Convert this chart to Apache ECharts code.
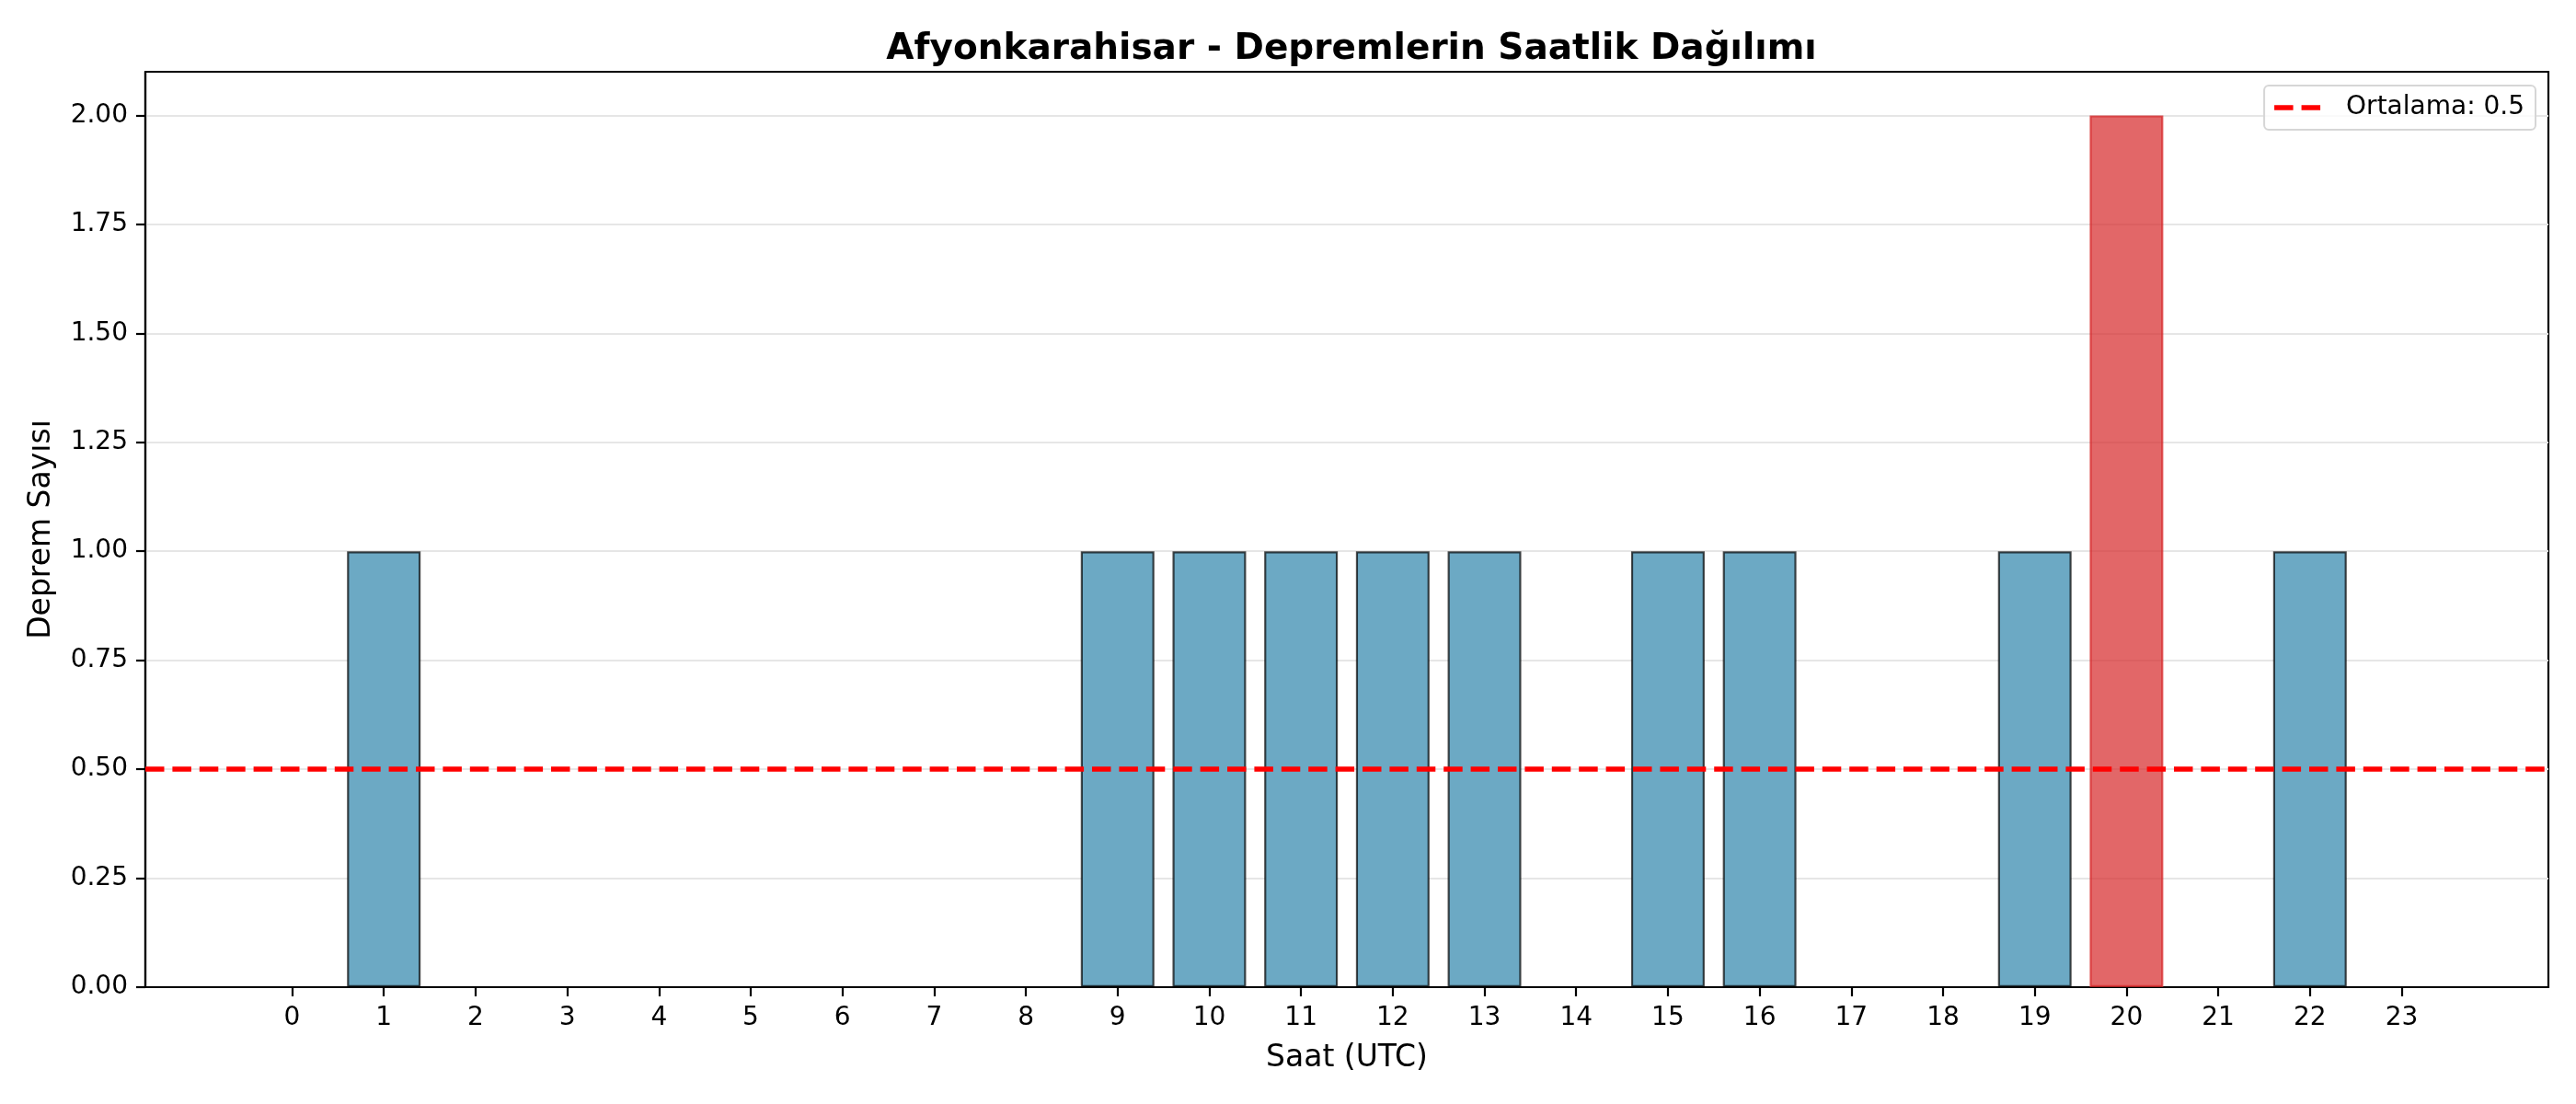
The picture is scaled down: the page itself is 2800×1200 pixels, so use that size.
<!DOCTYPE html>
<html>
<head>
<meta charset="utf-8">
<script src="https://cdn.jsdelivr.net/npm/echarts@6/dist/echarts.min.js"></script>
<style>
  html, body { margin: 0; padding: 0; background: #fff; }
  #main { width: 2800px; height: 1200px; }
</style>
</head>
<body>
<div id="main"></div>
<script>
// hourly earthquake counts, Afyonkarahisar
var hours = [0, 1, 2, 3, 4, 5, 6, 7, 8, 9, 10, 11, 12, 13, 14, 15, 16, 17, 18, 19, 20, 21, 22, 23];
var counts = [0, 1, 0, 0, 0, 0, 0, 0, 0, 1, 1, 1, 1, 1, 0, 1, 1, 0, 0, 1, 2, 0, 1, 0];
var yTicks = [0, 0.25, 0.5, 0.75, 1, 1.25, 1.5, 1.75, 2];

var mean = counts.reduce(function (a, b) { return a + b; }, 0) / counts.length;
var maxCount = Math.max.apply(null, counts);
var meanName = 'Ortalama: ' + mean.toFixed(1);

var font = 'DejaVu Sans';
var myChart = echarts.init(document.getElementById('main'));

// busiest hour gets the red colour
var barData = hours.map(function (h, i) {
    var top = counts[i] === maxCount;
    return {
        value: [h, counts[i]],
        itemStyle: top
            ? { color: 'rgba(214,39,40,0.7)', borderColor: 'rgba(214,39,40,0.75)', borderWidth: 2.2 }
            : { color: '#6CA9C4', borderColor: 'rgba(0,0,0,0.7)', borderWidth: 2.2 }
    };
});

var option = {
    animation: false,
    backgroundColor: '#fff',
    title: {
        text: 'Afyonkarahisar - Depremlerin Saatlik Dağılımı',
        left: 1464,
        textAlign: 'center',
        top: 29,
        textStyle: { fontFamily: font, fontWeight: 'bold', fontSize: 39, color: '#000' }
    },
    legend: {
        data: [meanName],
        right: 44,
        top: 93,
        padding: [10, 12, 10, 11],
        borderColor: '#d6d6d6',
        borderWidth: 2,
        borderRadius: 5,
        backgroundColor: 'rgba(255,255,255,0.8)',
        icon: 'path://M0,0H20.5V5.5H0Z M29.5,0H50V5.5H29.5Z',
        itemWidth: 50,
        itemHeight: 5.5,
        textStyle: { fontFamily: font, fontSize: 28, color: '#000', padding: [0, 0, 0, 23] }
    },
    grid: {
        left: 158, right: 30, top: 78, bottom: 127,
        show: true, borderColor: '#000', borderWidth: 2.2
    },
    xAxis: {
        type: 'value',
        min: -1.6,
        max: 24.6,
        name: 'Saat (UTC)',
        nameLocation: 'middle',
        nameGap: 61,
        nameTextStyle: { fontFamily: font, fontSize: 33, color: '#000' },
        axisLine: { show: true, onZero: false, lineStyle: { color: '#000', width: 2.2 } },
        axisTick: { show: true, length: 10, lineStyle: { color: '#000', width: 2.2 }, customValues: hours },
        axisLabel: { fontFamily: font, fontSize: 28, color: '#000', margin: 20, customValues: hours },
        splitLine: { show: false }
    },
    yAxis: {
        type: 'value',
        min: 0,
        max: 2.1,
        name: 'Deprem Sayısı',
        nameLocation: 'middle',
        nameGap: 96,
        nameTextStyle: { fontFamily: font, fontSize: 33, color: '#000' },
        axisLine: { show: true, onZero: false, lineStyle: { color: '#000', width: 2.2 } },
        axisTick: { show: true, length: 10, lineStyle: { color: '#000', width: 2.2 }, customValues: yTicks },
        axisLabel: {
            fontFamily: font, fontSize: 28, color: '#000', margin: 19,
            customValues: yTicks,
            formatter: function (v) { return v.toFixed(2); }
        },
        splitLine: { show: true, lineStyle: { color: '#e6e6e6', width: 2 } }
    },
    series: [
        {
            name: 'Saatlik',
            type: 'bar',
            barWidth: 80,
            data: barData
        },
        {
            name: meanName,
            type: 'line',
            symbol: 'none',
            data: [],
            z: 5,
            lineStyle: { color: '#ff0000', width: 5.5, type: [20.5, 8.9] },
            itemStyle: { color: '#ff0000' },
            markLine: {
                silent: true,
                symbol: 'none',
                label: { show: false },
                lineStyle: { color: '#ff0000', width: 5.5, type: [20.5, 8.9] },
                data: [{ yAxis: mean }]
            }
        }
    ]
};

myChart.setOption(option);
</script>
</body>
</html>
